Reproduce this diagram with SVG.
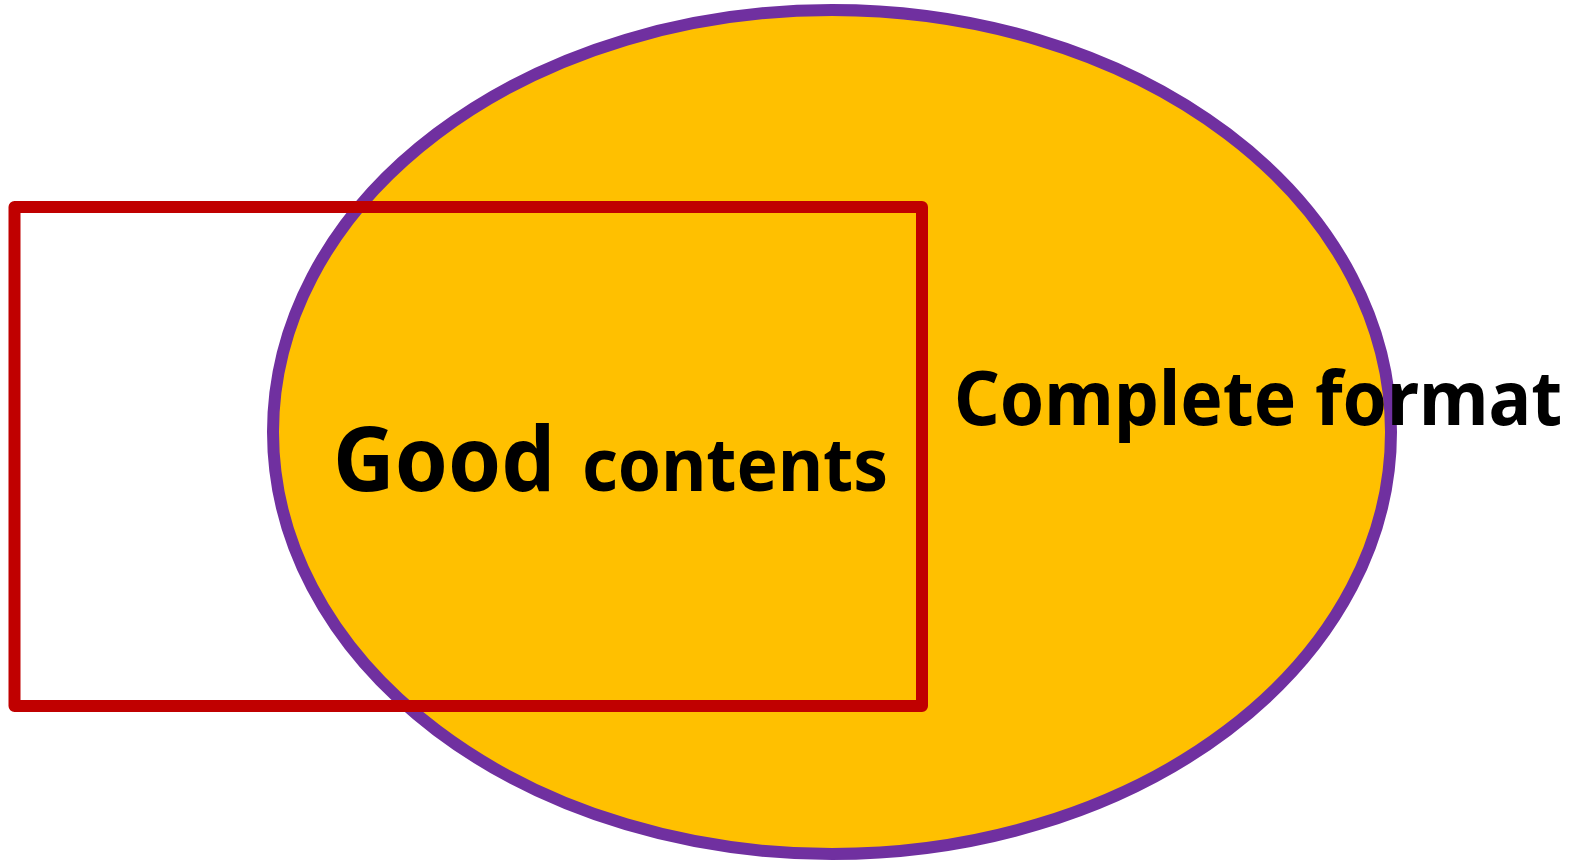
<svg xmlns="http://www.w3.org/2000/svg" width="1588" height="863" viewBox="0 0 1588 863">
  <style>
    .label { font-family: "Noto Sans", "Open Sans", "Liberation Sans", sans-serif; font-weight: bold; fill: #000000; }
    .format { fill: #FFC000; stroke: #7030A0; stroke-width: 12; }
    .content { fill: none; stroke: #C00000; stroke-width: 12; stroke-linejoin: round; }
  </style>
  <rect width="1588" height="863" fill="#FFFFFF"/>
  <g id="complete-format">
    <ellipse class="format" cx="832" cy="432" rx="559" ry="422"/>
  </g>
  <g id="good-contents">
    <rect class="content" x="14.5" y="207" width="907.5" height="499"/>
  </g>
  <g id="labels">
    <text class="label" x="333" y="491" font-size="90" textLength="222" lengthAdjust="spacingAndGlyphs">Good</text>
    <text class="label" x="582" y="491" font-size="74" textLength="306" lengthAdjust="spacingAndGlyphs">contents</text>
    <!-- narrowed horizontally so the wide label stays inside the canvas -->
    <text class="label" transform="translate(954 425) scale(0.94 1)" x="0" y="0" font-size="76" textLength="647" lengthAdjust="spacingAndGlyphs">Complete format</text>
  </g>
  <g id="connectors"></g>
</svg>
